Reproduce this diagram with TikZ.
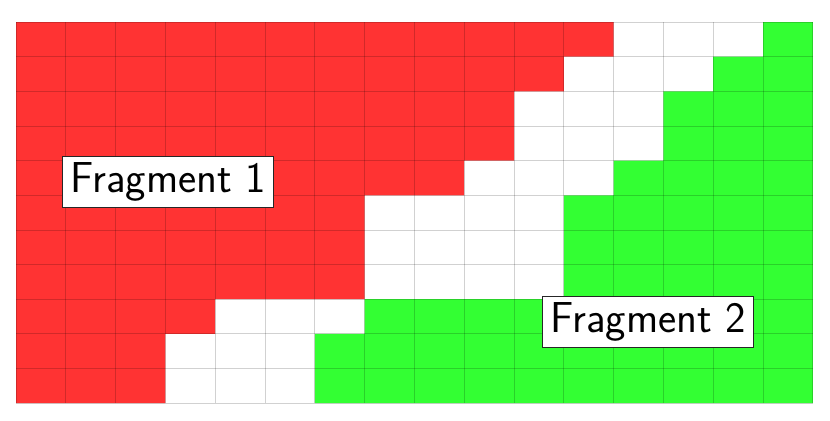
\documentclass[tikz,border=0pt]{standalone}
\begin{document}
\begin{tikzpicture}[x=1bp,y=-1bp,
  gridline/.style={draw=black,opacity=0.18,line width=0.8bp},
  fraglabel/.style={draw=black!85,fill=white,line width=0.9bp,inner xsep=7bp,inner ysep=3bp,
    font=\sffamily\fontsize{43.5}{48}\selectfont,minimum height=51bp,minimum width=211bp}]
\useasboundingbox (0,0) rectangle (830,420);
\begin{scope}[shift={(16bp,-22bp)},x=49.8bp,y=-34.65bp]
  \fill[red!80] (0,0) -- (12,0) -- (12,1) -- (11,1) -- (11,2) -- (10,2) -- (10,4) -- (9,4) -- (9,5) -- (7,5) -- (7,8) -- (4,8) -- (4,9) -- (3,9) -- (3,11) -- (0,11) -- cycle;
  \fill[green!80] (15,0) -- (16,0) -- (16,11) -- (6,11) -- (6,9) -- (7,9) -- (7,8) -- (11,8) -- (11,5) -- (12,5) -- (12,4) -- (13,4) -- (13,2) -- (14,2) -- (14,1) -- (15,1) -- cycle;
  \foreach \i in {0,...,16} \draw[gridline] (\i,0) -- (\i,11);
  \foreach \j in {0,...,11} \draw[gridline] (0,\j) -- (16,\j);
\end{scope}
\node[fraglabel] (f1) at (168.3,181.7) {Fragment 1};
\node[fraglabel] (f2) at (648.3,321.7) {Fragment 2};
\end{tikzpicture}
\end{document}
